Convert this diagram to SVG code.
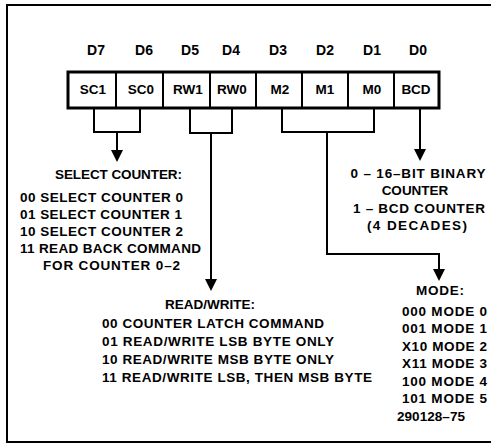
<svg xmlns="http://www.w3.org/2000/svg" width="491" height="444" viewBox="0 0 491 444">
<style>
text{font-family:"Liberation Sans",Arial,sans-serif;font-weight:bold;font-size:13.5px;fill:#000}
.c{text-anchor:middle}
.lbl{font-size:14px}
.ln{fill:none;stroke:#000;stroke-width:2}
.box{fill:#fff;stroke:#000;stroke-width:3}
.div{stroke:#000;stroke-width:2}
</style>
<defs>
<marker id="ah" markerUnits="userSpaceOnUse" markerWidth="12" markerHeight="12" refX="6" refY="6" orient="auto" viewBox="0 0 12 12">
<path d="M0,0 L12,6 L0,12 z" fill="#000"/>
</marker>
</defs>
<rect x="0" y="0" width="491" height="444" fill="#fff"/>
<rect x="7" y="5" width="495" height="437" fill="none" stroke="#000" stroke-width="2"/>

<g id="bit-labels">
<text class="c lbl" x="96" y="55">D7</text>
<text class="c lbl" x="144" y="55">D6</text>
<text class="c lbl" x="190" y="55">D5</text>
<text class="c lbl" x="231" y="55">D4</text>
<text class="c lbl" x="278" y="55">D3</text>
<text class="c lbl" x="325" y="55">D2</text>
<text class="c lbl" x="372" y="55">D1</text>
<text class="c lbl" x="418" y="55">D0</text>
</g>

<g id="register">
<rect class="box" x="68" y="72" width="371" height="36"/>
<line class="div" x1="116" y1="72" x2="116" y2="108"/>
<line class="div" x1="163" y1="72" x2="163" y2="108"/>
<line class="div" x1="210" y1="72" x2="210" y2="108"/>
<line class="div" x1="256" y1="72" x2="256" y2="108"/>
<line class="div" x1="302" y1="72" x2="302" y2="108"/>
<line class="div" x1="348" y1="72" x2="348" y2="108"/>
<line class="div" x1="394" y1="72" x2="394" y2="108"/>
<text class="c" x="93" y="94">SC1</text>
<text class="c" x="141" y="94">SC0</text>
<text class="c" x="188" y="94">RW1</text>
<text class="c" x="232" y="94">RW0</text>
<text class="c" x="280" y="94">M2</text>
<text class="c" x="325" y="94">M1</text>
<text class="c" x="372" y="94">M0</text>
<text class="c" x="416" y="94">BCD</text>
</g>

<g id="connectors">
<path class="ln" d="M94,108 V132 H140 V108"/>
<path class="ln" d="M117,132 V156" marker-end="url(#ah)"/>
<path class="ln" d="M190,108 V133 H232 V108"/>
<path class="ln" d="M211,133 V285" marker-end="url(#ah)"/>
<path class="ln" d="M282,108 V132 H374 V108"/>
<path class="ln" d="M327,132 V254 H439 V275" marker-end="url(#ah)"/>
<path class="ln" d="M420,108 V155" marker-end="url(#ah)"/>
</g>

<g id="select-counter">
<text x="55" y="179" textLength="127" lengthAdjust="spacing">SELECT COUNTER:</text>
<text x="20" y="202" textLength="163" lengthAdjust="spacing">00 SELECT COUNTER 0</text>
<text x="20" y="219" textLength="162" lengthAdjust="spacing">01 SELECT COUNTER 1</text>
<text x="20" y="236" textLength="163" lengthAdjust="spacing">10 SELECT COUNTER 2</text>
<text x="20" y="253" textLength="181" lengthAdjust="spacing">11 READ BACK COMMAND</text>
<text x="43" y="270" textLength="137" lengthAdjust="spacing">FOR COUNTER 0–2</text>
</g>

<g id="read-write">
<text class="c" x="210" y="309">READ/WRITE:</text>
<text x="102" y="328" textLength="222" lengthAdjust="spacing">00 COUNTER LATCH COMMAND</text>
<text x="102" y="346" textLength="232" lengthAdjust="spacing">01 READ/WRITE LSB BYTE ONLY</text>
<text x="102" y="364" textLength="232" lengthAdjust="spacing">10 READ/WRITE MSB BYTE ONLY</text>
<text x="102" y="382" textLength="270" lengthAdjust="spacing">11 READ/WRITE LSB, THEN MSB BYTE</text>
</g>

<g id="bcd">
<text class="c" x="418" y="178" textLength="135" lengthAdjust="spacing">0 – 16–BIT BINARY</text>
<text class="c" x="415" y="195">COUNTER</text>
<text class="c" x="419" y="213" textLength="132" lengthAdjust="spacing">1 – BCD COUNTER</text>
<text class="c" x="417" y="230" textLength="100" lengthAdjust="spacing">(4 DECADES)</text>
</g>

<g id="mode">
<text x="416" y="295" textLength="48" lengthAdjust="spacing">MODE:</text>
<text x="402" y="316" textLength="85" lengthAdjust="spacing">000 MODE 0</text>
<text x="402" y="333" textLength="85" lengthAdjust="spacing">001 MODE 1</text>
<text x="402" y="351" textLength="85" lengthAdjust="spacing">X10 MODE 2</text>
<text x="402" y="368" textLength="85" lengthAdjust="spacing">X11 MODE 3</text>
<text x="402" y="386" textLength="85" lengthAdjust="spacing">100 MODE 4</text>
<text x="402" y="403" textLength="85" lengthAdjust="spacing">101 MODE 5</text>
<text x="397" y="421" textLength="68" lengthAdjust="spacing">290128–75</text>
</g>
</svg>
